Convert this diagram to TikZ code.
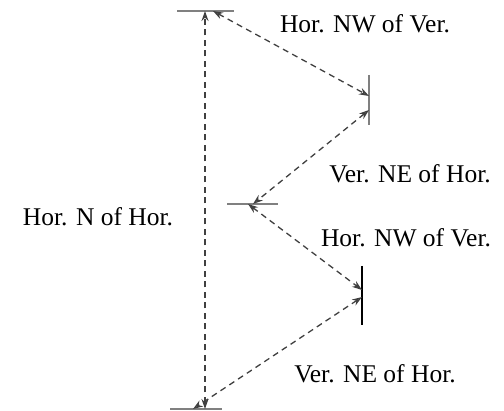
\documentclass[tikz,border=0pt]{standalone}
\usepackage{fontspec}
\setmainfont{Liberation Serif}
\usetikzlibrary{arrows.meta}
\tikzset{
  seg/.style={line width=1.5pt,gray},
  rel/.style={dash pattern=on 6pt off 4.5pt,line width=1.3pt,black!75,{Stealth[open,length=10pt,width=7pt]}-{Stealth[open,length=10pt,width=7pt]}},
  lbl/.style={anchor=base,font=\fontsize{25.5}{30}\selectfont}
}
\begin{document}
\begin{tikzpicture}[x=1pt,y=-1pt]
  \useasboundingbox (0,0) rectangle (504,411);
  \coordinate (H1l) at (177,11);
  \coordinate (H1r) at (234,11);
  \coordinate (V1t) at (369,75);
  \coordinate (V1b) at (369,125);
  \coordinate (H2l) at (227,204);
  \coordinate (H2r) at (278,204);
  \coordinate (V2t) at (362,266);
  \coordinate (V2b) at (362,325);
  \coordinate (H3l) at (170,409);
  \coordinate (H3r) at (222,409);
  \draw[seg] (H1l) -- (H1r);
  \draw[seg] (V1t) -- (V1b);
  \draw[seg] (H2l) -- (H2r);
  \draw[seg,black] (V2t) -- (V2b);
  \draw[seg] (H3l) -- (H3r);
  \draw[rel] (205,409) -- (205,11);
  \draw[rel] (213,11) -- (369,96);
  \draw[rel] (369,110) -- (253,204);
  \draw[rel] (248,204) -- (362,290);
  \draw[rel] (362,297) -- (193,409);
  \node[lbl] at (365,33) {Hor. NW of Ver.};
  \node[lbl] at (410,183) {Ver. NE of Hor.};
  \node[lbl] at (406,247) {Hor. NW of Ver.};
  \node[lbl] at (375,383) {Ver. NE of Hor.};
  \node[lbl] at (98,226) {Hor. N of Hor.};
\end{tikzpicture}
\end{document}
